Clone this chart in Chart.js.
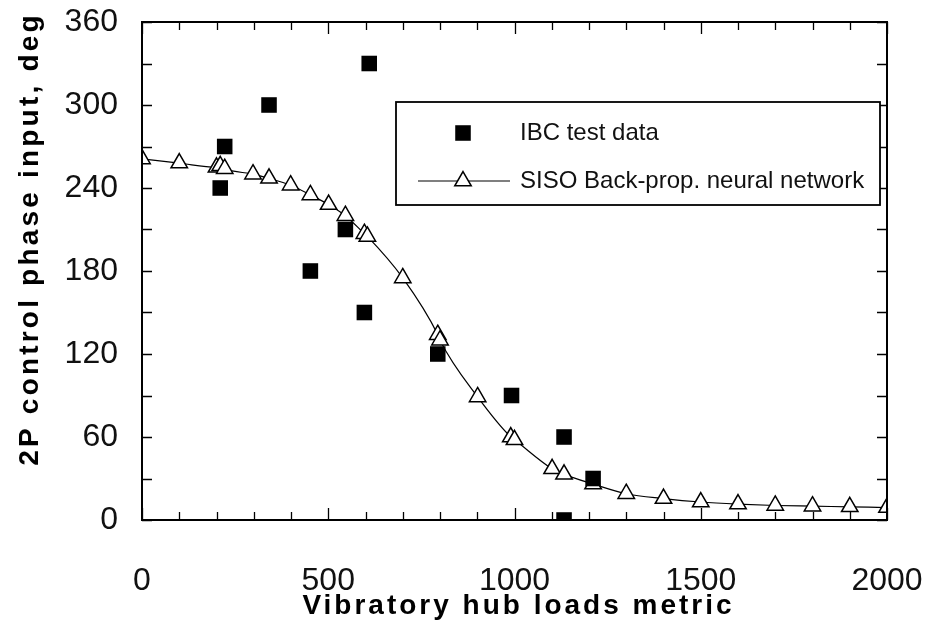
<!DOCTYPE html>
<html>
<head>
<meta charset="utf-8">
<script src="https://cdn.jsdelivr.net/npm/chart.js@4/dist/chart.umd.min.js"></script>
<style>
  html, body { margin: 0; padding: 0; background: #fff; }
  #wrap { width: 927px; height: 620px; }
</style>
</head>
<body>
<div id="wrap"><canvas id="chart"></canvas></div>
<script>
// IBC test data (filled squares)
const ibcLoads = [210, 222, 341, 452, 546, 597, 610, 794, 992, 1133, 1133, 1211]
const ibcPhase = [240, 270, 300, 180, 210, 150, 330, 120, 90, 60, 0, 30]

// SISO back-prop neural network (open triangles + line)
const nnLoads = [0, 100, 200, 210, 222, 298, 341, 399, 452, 501, 546, 597, 605, 700, 794, 800, 901, 990, 1000, 1101, 1133, 1211, 1300, 1400, 1500, 1600, 1700, 1800, 1900, 2000]
const nnPhase = [261, 258, 255, 256, 254, 250, 247, 242, 235, 228, 220, 207, 205, 175, 134, 130, 89, 60, 58, 37, 33, 26, 19, 15.5, 13, 11.5, 10.5, 10, 9.5, 9]

const seriesNames = ['IBC test data', 'SISO Back-prop. neural network']
const xTickLabels = [0, 500, 1000, 1500, 2000]
const yTickLabels = [0, 60, 120, 180, 240, 300, 360]
const xTitle = 'Vibratory hub loads metric'
const yTitle = '2P control phase input, deg'

const FONT = "'Liberation Sans', Arial, sans-serif"

// frame + inward tick marks on all four sides
const framePlugin = {
  id: 'frame',
  afterDatasetsDraw(chart) {
    const { ctx, chartArea: a, scales: { x, y } } = chart
    ctx.save()
    ctx.strokeStyle = '#000'
    ctx.lineWidth = 1.3
    ctx.beginPath()
    for (let v = 0; v <= 2000; v += 100) {
      const px = Math.round(x.getPixelForValue(v)) + 0.5
      const len = v % 500 === 0 ? 12 : 8
      ctx.moveTo(px, a.bottom); ctx.lineTo(px, a.bottom - len)
      ctx.moveTo(px, a.top); ctx.lineTo(px, a.top + len)
    }
    for (let v = 0; v <= 360; v += 30) {
      const py = Math.round(y.getPixelForValue(v)) + 0.5
      ctx.moveTo(a.left, py); ctx.lineTo(a.left + 10, py)
      ctx.moveTo(a.right, py); ctx.lineTo(a.right - 10, py)
    }
    ctx.stroke()
    ctx.lineWidth = 2
    ctx.strokeRect(a.left, a.top, a.right - a.left, a.bottom - a.top)
    ctx.restore()
  }
}

// axis titles (letter-spaced, bold)
const titlePlugin = {
  id: 'axisTitles',
  afterDraw(chart) {
    const { ctx, chartArea: a } = chart
    ctx.save()
    ctx.fillStyle = '#000'
    ctx.font = 'bold 28px ' + FONT
    ctx.textAlign = 'center'
    ctx.textBaseline = 'middle'
    ctx.letterSpacing = '3px'
    ctx.fillText(xTitle, (a.left + a.right) / 2 + 4, 606)
    ctx.letterSpacing = '3.2px'
    ctx.translate(30, 239)
    ctx.rotate(-Math.PI / 2)
    ctx.fillText(yTitle, 0, 0)
    ctx.restore()
  }
}

// boxed legend inside the plot
const legendPlugin = {
  id: 'boxLegend',
  afterDraw(chart) {
    const { ctx } = chart
    const box = { x: 396, y: 102, w: 484, h: 103 }
    ctx.save()
    ctx.fillStyle = '#fff'
    ctx.fillRect(box.x, box.y, box.w, box.h)
    ctx.strokeStyle = '#000'
    ctx.lineWidth = 1.8
    ctx.strokeRect(box.x, box.y, box.w, box.h)

    const symX = 463
    const rows = [133, 181]
    const ds = chart.data.datasets

    ctx.lineWidth = 1.2
    ctx.beginPath()
    ctx.moveTo(418, rows[1]); ctx.lineTo(510, rows[1])
    ctx.stroke()

    rows.forEach((ry, i) => {
      const d = ds[i]
      ctx.fillStyle = d.pointBackgroundColor
      ctx.strokeStyle = d.pointBorderColor
      ctx.lineWidth = d.pointBorderWidth
      Chart.helpers.drawPoint(ctx, { pointStyle: d.pointStyle, radius: d.pointRadius, rotation: 0, borderWidth: d.pointBorderWidth }, symX, ry)
      ctx.fillStyle = '#111'
      ctx.font = '24px ' + FONT
      ctx.textBaseline = 'middle'
      ctx.textAlign = 'left'
      ctx.fillText(seriesNames[i], 520, ry)
    })
    ctx.restore()
  }
}

new Chart(document.getElementById('chart'), {
  type: 'scatter',
  data: {
    datasets: [
      {
        label: seriesNames[0],
        data: ibcLoads.map((v, i) => ({ x: v, y: ibcPhase[i] })),
        pointStyle: 'rect',
        pointRadius: 11,
        pointBackgroundColor: '#000',
        pointBorderColor: '#000',
        pointBorderWidth: 0,
        showLine: false
      },
      {
        label: seriesNames[1],
        data: nnLoads.map((v, i) => ({ x: v, y: nnPhase[i] })),
        pointStyle: 'triangle',
        pointRadius: 9.5,
        pointBackgroundColor: '#fff',
        pointBorderColor: '#000',
        pointBorderWidth: 1.5,
        showLine: true,
        borderColor: '#000',
        borderWidth: 1.2,
        cubicInterpolationMode: 'monotone'
      }
    ]
  },
  options: {
    responsive: true,
    maintainAspectRatio: false,
    animation: false,
    layout: { padding: { top: 22, right: 40, left: 0, bottom: 0 } },
    plugins: { legend: { display: false }, tooltip: { enabled: false } },
    scales: {
      x: {
        type: 'linear', min: 0, max: 2000,
        afterBuildTicks: s => { s.ticks = xTickLabels.map(v => ({ value: v })) },
        afterFit: s => { s.height = 100; s.paddingLeft = 0; s.paddingRight = 0 },
        grid: { display: false, drawTicks: false },
        border: { display: false },
        ticks: { color: '#111', padding: 42, maxRotation: 0, callback: v => String(v), font: { family: FONT, size: 32 } }
      },
      y: {
        type: 'linear', min: 0, max: 360,
        afterBuildTicks: s => { s.ticks = yTickLabels.map(v => ({ value: v })) },
        afterFit: s => { s.width = 142; s.paddingTop = 0; s.paddingBottom = 0 },
        grid: { display: false, drawTicks: false },
        border: { display: false },
        ticks: { color: '#111', padding: 24, callback: v => String(v), font: { family: FONT, size: 32 } }
      }
    }
  },
  plugins: [framePlugin, legendPlugin, titlePlugin]
})
</script>
</body>
</html>
